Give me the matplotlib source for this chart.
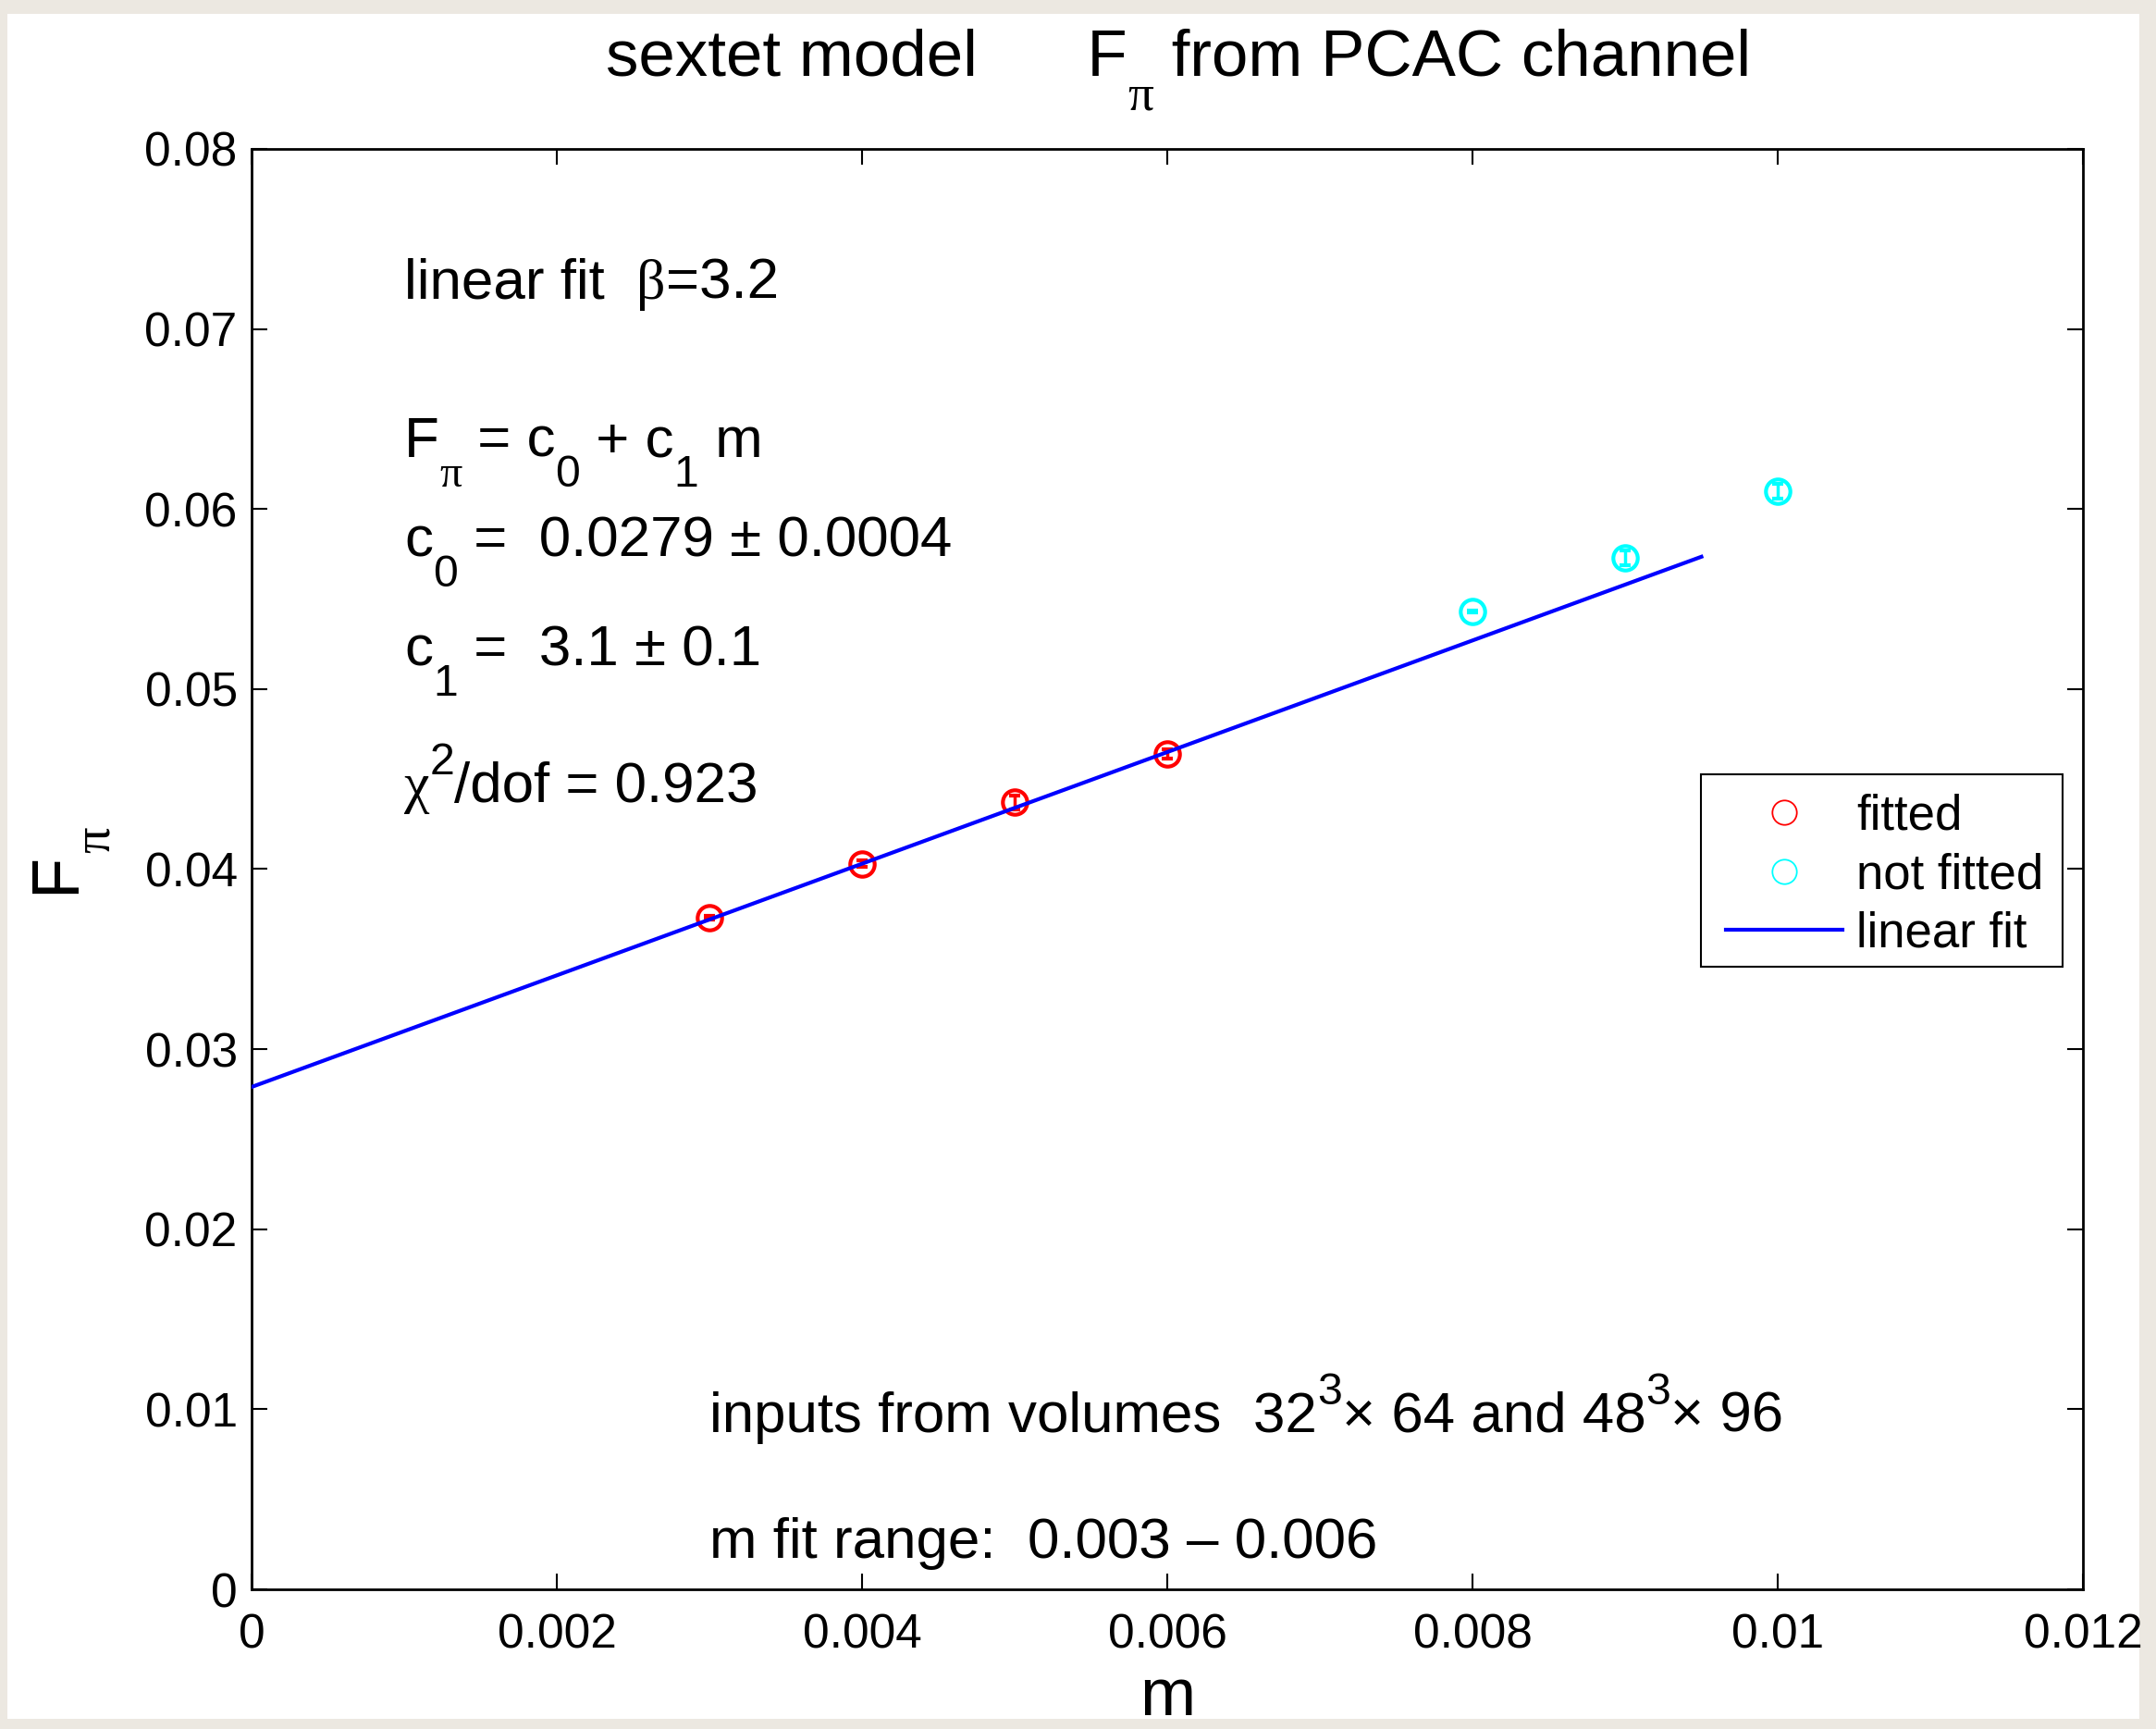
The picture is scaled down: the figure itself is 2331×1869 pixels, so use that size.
"""
sextet model: F_pi from PCAC channel, linear fit in m
"""
import numpy as np
import matplotlib
matplotlib.use('Agg')
import matplotlib.pyplot as plt
from matplotlib.lines import Line2D
from matplotlib.patches import Rectangle
from matplotlib.transforms import offset_copy

SANS = 'Liberation Sans'
SERIF = 'Liberation Serif'   # stands in for the Symbol font of the greek letters
plt.rcParams['font.family'] = [SANS, 'DejaVu Sans']

# fitted points
m_fit = [0.003, 0.004, 0.005, 0.006]
F_fit = [0.0373, 0.0403, 0.0437, 0.0464]
err_fit = [0.00012, 0.00018, 0.0004, 0.00025]

# points left out of the fit
m_nf = [0.008, 0.009, 0.010]
F_nf = [0.0543, 0.0573, 0.0610]
err_nf = [0.00005, 0.0004, 0.00042]

# linear fit parameters and drawn range
c0 = 0.0279
c1 = 3.1
fit_range = [0.0, 0.0095]

xticks = [0, 0.002, 0.004, 0.006, 0.008, 0.010, 0.012]
xticklabels = ['0', '0.002', '0.004', '0.006', '0.008', '0.01', '0.012']
yticks = [0, 0.01, 0.02, 0.03, 0.04, 0.05, 0.06, 0.07, 0.08]
yticklabels = ['0', '0.01', '0.02', '0.03', '0.04', '0.05', '0.06', '0.07', '0.08']

W, H = 2331, 1869
fig = plt.figure(figsize=(W / 100, H / 100), dpi=100)
fig.patch.set_facecolor('#ECE8E1')
# white page on the beige background
fig.patches.append(Rectangle((8 / W, 1 - 1858 / H), (2313 - 8) / W, (1858 - 15) / H,
                             transform=fig.transFigure, facecolor='white',
                             edgecolor='none', zorder=-5))
renderer = fig.canvas.get_renderer()

# --- MATLAB-like tex text: subscripts drop well below the baseline ---
N = (1.0, 0.0)      # normal
SUB = (0.78, -0.52)  # size factor, baseline shift in em
SUP = (0.78, 0.48)


def text_width(s, fs, fam):
    """advance width in points, spaces included"""
    def w(txt):
        t = fig.text(0, 0, txt, fontsize=fs, family=fam)
        val = t.get_window_extent(renderer).width
        t.remove()
        return val
    return (w('|' + s + '|') - w('||')) * 72 / fig.dpi


def rich_text(target, transform, x, y, parts, fs, rotation=0, center=False):
    th = np.deg2rad(rotation)
    widths = [text_width(s, fs * st[0], fam) for s, st, fam in parts]
    adv = -sum(widths) / 2 if center else 0.0
    for (s, st, fam), w in zip(parts, widths):
        dy = st[1] * fs
        ox = adv * np.cos(th) - dy * np.sin(th)
        oy = adv * np.sin(th) + dy * np.cos(th)
        tr = offset_copy(transform, fig=fig, x=ox, y=oy, units='points')
        target.text(x, y, s, transform=tr, fontsize=fs * st[0], family=fam,
                    ha='left', va='baseline', rotation=rotation,
                    rotation_mode='anchor')
        adv += w


ax = fig.add_axes([272 / W, 1 - 1718 / H, (2252 - 272) / W, (1718 - 161) / H])

ax.errorbar(m_fit, F_fit, yerr=err_fit, fmt='o', color='red', mfc='none',
            ms=19, mew=3, elinewidth=2.5, capsize=4, capthick=2.5, zorder=2)
ax.errorbar(m_nf, F_nf, yerr=err_nf, fmt='o', color='cyan', mfc='none',
            ms=19, mew=3, elinewidth=2.5, capsize=4, capthick=2.5, zorder=2)

fx = np.array(fit_range)
ax.plot(fx, c0 + c1 * fx, color='blue', lw=3, zorder=3)

ax.set_xlim(0, 0.012)
ax.set_ylim(0, 0.08)
ax.set_xticks(xticks)
ax.set_xticklabels(xticklabels)
ax.set_yticks(yticks)
ax.set_yticklabels(yticklabels)
ax.tick_params(direction='in', top=True, right=True, length=12, width=1.5,
               labelsize=37, pad=11)
ax.tick_params(axis='x', pad=18)
for sp in ax.spines.values():
    sp.set_linewidth(2)

ax.set_xlabel('m', fontsize=52)
ax.xaxis.set_label_coords(0.5, -0.054)

# y label F_pi, rotated
rich_text(fig, fig.transFigure, 80 / W, 1 - 966 / H,
          [('F', N, SANS), ('π', SUB, SERIF)], 52, rotation=90)

# title
rich_text(fig, fig.transFigure, 0.5465, 1 - 82 / H,
          [('sextet model      F', N, SANS), ('π', SUB, SERIF),
           (' from PCAC channel', N, SANS)], 51, center=True)

# fit annotations
fs = 44.6
td = ax.transData
rich_text(ax, td, 0.001, 0.0717,
          [('linear fit  ', N, SANS), ('β', N, SERIF), ('=3.2', N, SANS)], fs)
rich_text(ax, td, 0.001, 0.0629,
          [('F', N, SANS), ('π', SUB, SERIF), (' = c', N, SANS), ('0', SUB, SANS),
           (' + c', N, SANS), ('1', SUB, SANS), (' m', N, SANS)], fs)
rich_text(ax, td, 0.001, 0.05735,
          [('c', N, SANS), ('0', SUB, SANS), (' =  0.0279 ± 0.0004', N, SANS)], fs)
rich_text(ax, td, 0.001, 0.0513,
          [('c', N, SANS), ('1', SUB, SANS), (' =  3.1 ± 0.1', N, SANS)], fs)
rich_text(ax, td, 0.001, 0.04375,
          [('χ', N, SERIF), ('2', SUP, SANS), ('/dof = 0.923', N, SANS)], fs)
rich_text(ax, td, 0.003, 0.00876,
          [('inputs from volumes  32', N, SANS), ('3', SUP, SANS),
           ('× 64 and 48', N, SANS), ('3', SUP, SANS), ('× 96', N, SANS)], fs)
rich_text(ax, td, 0.003, 0.00174,
          [('m fit range:  0.003 – 0.006', N, SANS)], fs)

# legend: entries placed without frame, box drawn separately (MATLAB padding)
handles = [
    Line2D([], [], ls='none', marker='o', mfc='none', mec='red', ms=19, mew=1.3),
    Line2D([], [], ls='none', marker='o', mfc='none', mec='cyan', ms=19, mew=1.3),
    Line2D([], [], color='blue', lw=3),
]
leg = ax.legend(handles, ['fitted', 'not fitted', 'linear fit'], fontsize=38,
                loc='upper left', bbox_to_anchor=(0.805, 0.5524), borderaxespad=0,
                frameon=False, handlelength=2.39, handletextpad=0.28,
                borderpad=0, labelspacing=0.25)
leg.set_zorder(6)
ax.add_patch(Rectangle((0.7914, 0.4322), 0.1975, 0.1336, transform=ax.transAxes,
                       facecolor='white', edgecolor='black', lw=1.5, zorder=5))

fig.savefig('out.png', dpi=100, facecolor=fig.get_facecolor())
